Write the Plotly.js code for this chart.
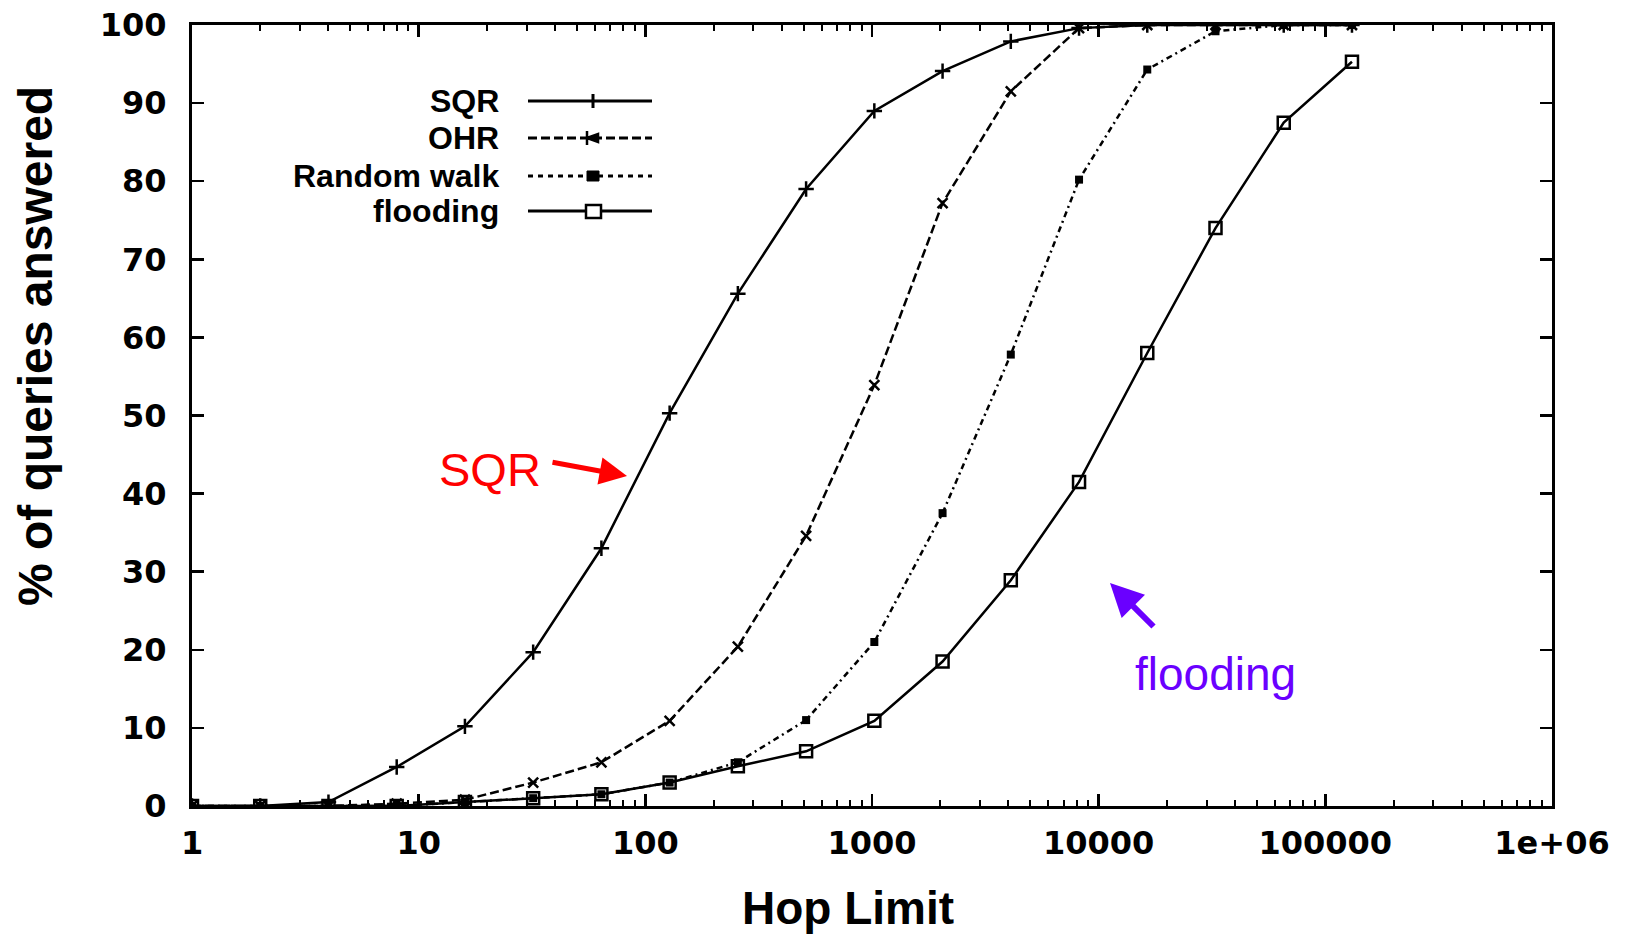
<!DOCTYPE html>
<html>
<head>
<meta charset="utf-8">
<script src="https://cdn.plot.ly/plotly-3.0.1.min.js"></script>
<style>
html,body{margin:0;padding:0;background:#fff;}
#chart{width:1631px;height:937px;}
</style>
</head>
<body>
<div id="chart"></div>
<script>
// ---- data ----
const hopLimits = [1,2,4,8,16,32,64,128,256,512,1024,2048,4096,8192,16384,32768,65536,131072];
const sqrValues      = [0,0,0.5,5,10.2,19.7,33,50.3,65.6,79,89,94.1,97.9,99.6,100,100,100,100];
const ohrValues      = [0,0,0,0.3,0.8,3,5.6,10.9,20.4,34.6,53.9,77.2,91.5,99.6,100,100,100,100];
const randomWalkValues = [0,0,0,0,0.5,1,1.5,3,5.6,11,21,37.5,57.8,80.2,94.3,99.2,100,100];
const floodingValues = [0,0,0,0,0.5,1,1.5,3,5.1,7,10.9,18.5,28.9,41.5,58,74,87.5,95.3];

const seriesNames = ['SQR','OHR','Random walk','flooding'];
const xTickVals = [1,10,100,1000,10000,100000,1000000];
const xTickText = ['1','10','100','1000','10000','100000','1e+06'];
const yTickVals = [0,10,20,30,40,50,60,70,80,90,100];

// ---- geometry helpers (layout only) ----
const L = 192, R = 79, T = 25, B = 131, W = 1631, H = 937;
const PW = W - L - R, PH = H - T - B;
const px = x => (x - L) / PW;
const py = y => (H - B - y) / PH;

const minorVals = [];
for (let d = 0; d < 6; d++) for (let k = 2; k <= 9; k++) minorVals.push(k * Math.pow(10, d));

const lw = 2.5;
const traces = [
  {x: hopLimits, y: sqrValues, name: seriesNames[0], mode: 'lines+markers',
   line: {color: '#000', width: lw, dash: 'solid'},
   marker: {symbol: 'cross-thin-open', size: 11, line: {color: '#000', width: 2.5}}},
  {x: hopLimits, y: ohrValues, name: seriesNames[1], mode: 'lines+markers',
   line: {color: '#000', width: lw, dash: '9px,4px'},
   marker: {symbol: 'x-thin-open', size: 10, line: {color: '#000', width: 2.5}}},
  {x: hopLimits, y: randomWalkValues, name: seriesNames[2], mode: 'lines+markers',
   line: {color: '#000', width: lw, dash: '6px,4px,2px,4px'},
   marker: {symbol: 'square', size: 8, color: '#000'}},
  {x: hopLimits, y: floodingValues, name: seriesNames[3], mode: 'lines+markers',
   line: {color: '#000', width: lw, dash: 'solid'},
   marker: {symbol: 'square-open', size: 12, color: '#000', line: {color: '#000', width: 2.5}}}
];

// custom legend (text to the left of the sample, as in the reference)
const legRows = [101, 138, 176, 211];
const legDash = ['solid', '9px,4px', '5px,5px', 'solid'];
const shapes = [];
const annotations = [];
legRows.forEach((ry, i) => {
  annotations.push({xref: 'paper', yref: 'paper', x: px(501), y: py(ry), xanchor: 'right', yanchor: 'middle',
    text: seriesNames[i], showarrow: false,
    font: {family: 'Liberation Sans, Arial, sans-serif', size: 32, color: '#000', weight: 'bold'}});
  shapes.push({type: 'line', xref: 'paper', yref: 'paper', x0: px(528), x1: px(652), y0: py(ry), y1: py(ry),
    line: {color: '#000', width: 3, dash: legDash[i]}});
});
// legend sample markers
shapes.push({type: 'line', xref: 'paper', yref: 'paper', x0: px(593), x1: px(593), y0: py(101-7), y1: py(101+7), line: {color: '#000', width: 3}});
shapes.push({type: 'path', xref: 'paper', yref: 'paper',
  path: `M ${px(587)} ${py(131)} L ${px(587)} ${py(145)} M ${px(587)} ${py(138)} L ${px(598)} ${py(134)} L ${px(598)} ${py(142)} Z`,
  line: {color: '#000', width: 2.5}, fillcolor: '#000'});
shapes.push({type: 'rect', xref: 'paper', yref: 'paper', x0: px(587), x1: px(599), y0: py(171), y1: py(181),
  line: {color: '#000', width: 1}, fillcolor: '#000'});
shapes.push({type: 'rect', xref: 'paper', yref: 'paper', x0: px(586), x1: px(601), y0: py(205), y1: py(218),
  line: {color: '#000', width: 2.5}, fillcolor: '#fff'});

// y-axis title (as annotation to place it like the reference)
annotations.push({xref: 'paper', yref: 'paper', x: px(36), y: py(346), xanchor: 'center', yanchor: 'middle',
  text: '% of queries answered', textangle: -90, showarrow: false,
  font: {family: 'Liberation Sans, Arial, sans-serif', size: 48, color: '#000', weight: 'bold'}});
// x-axis title
annotations.push({xref: 'paper', yref: 'paper', x: px(848), y: py(908), xanchor: 'center', yanchor: 'middle',
  text: 'Hop Limit', showarrow: false,
  font: {family: 'Liberation Sans, Arial, sans-serif', size: 46, color: '#000', weight: 'bold'}});

// call-outs
annotations.push({xref: 'paper', yref: 'paper', x: px(490), y: py(470), xanchor: 'center', yanchor: 'middle',
  text: 'SQR', showarrow: false, font: {family: 'Liberation Sans, Arial, sans-serif', size: 47, color: '#FF0000'}});
annotations.push({xref: 'paper', yref: 'paper', x: px(627), y: py(476), text: '', showarrow: true,
  ax: -76, ay: -14, arrowcolor: '#FF0000', arrowwidth: 5, arrowhead: 2, arrowsize: 1.1});
annotations.push({xref: 'paper', yref: 'paper', x: px(1215), y: py(674), xanchor: 'center', yanchor: 'middle',
  text: 'flooding', showarrow: false, font: {family: 'Liberation Sans, Arial, sans-serif', size: 46, color: '#6A00FF'}});
annotations.push({xref: 'paper', yref: 'paper', x: px(1110), y: py(583), text: '', showarrow: true,
  ax: 45, ay: 45, arrowcolor: '#6A00FF', arrowwidth: 6, arrowhead: 2, arrowsize: 1.1});

const tickFont = {family: 'DejaVu Sans, sans-serif', size: 32, color: '#000', weight: 'bold'};

const layout = {
  width: W, height: H,
  margin: {l: L, r: R, t: T, b: B, pad: 0},
  paper_bgcolor: '#fff', plot_bgcolor: '#fff',
  showlegend: false,
  xaxis: {type: 'log', range: [0, 6], tickmode: 'array', tickvals: xTickVals, ticktext: xTickText,
    ticks: 'inside', ticklen: 12, tickwidth: 2.5, tickcolor: '#000',
    minor: {tickmode: 'array', tickvals: minorVals, ticks: 'inside', ticklen: 6, tickwidth: 2, tickcolor: '#000', showgrid: false},
    showline: true, linecolor: '#000', linewidth: 3, mirror: 'ticks', showgrid: false, zeroline: false,
    tickfont: tickFont, ticklabelstandoff: 7},
  yaxis: {range: [0, 100], tickmode: 'array', tickvals: yTickVals,
    ticks: 'inside', ticklen: 12, tickwidth: 2.5, tickcolor: '#000',
    showline: true, linecolor: '#000', linewidth: 3, mirror: 'ticks', showgrid: false, zeroline: false,
    tickfont: tickFont, ticklabelstandoff: 16},
  shapes: shapes,
  annotations: annotations
};

Plotly.newPlot('chart', traces, layout, {displayModeBar: false, staticPlot: true});
</script>
</body>
</html>
